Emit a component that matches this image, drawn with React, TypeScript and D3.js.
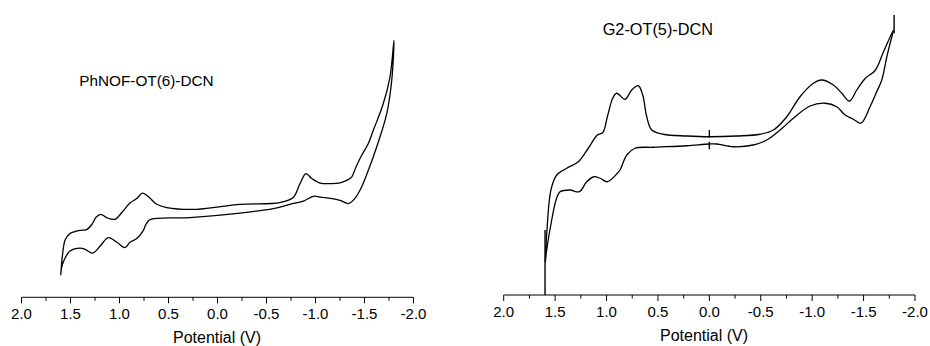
import React from "react";
import * as d3 from "d3";

// Tick values and labels (shared by both panels)
const majorTicks = [2.0, 1.5, 1.0, 0.5, 0.0, -0.5, -1.0, -1.5, -2.0];
const tickLabels = ["2.0", "1.5", "1.0", "0.5", "0.0", "-0.5", "-1.0", "-1.5", "-2.0"];
const minorTicks = [1.75, 1.25, 0.75, 0.25, -0.25, -0.75, -1.25, -1.75];

const leftTitle = "PhNOF-OT(6)-DCN";
const rightTitle = "G2-OT(5)-DCN";
const xLabel = "Potential (V)";

// Left panel: [potential V, current a.u.]
const leftForward: [number, number][] = [
  [1.6, 8.8], [1.582, 16.8], [1.556, 22.8], [1.515, 25.2], [1.471, 26.1], [1.403, 26.8],
  [1.335, 27.1], [1.281, 29.2], [1.24, 32], [1.189, 33.2], [1.128, 31.8], [1.046, 31.2],
  [0.974, 34], [0.893, 37.7], [0.824, 39.5], [0.767, 41.7], [0.709, 40.4], [0.62, 37.2],
  [0.518, 35.9], [0.212, 35.2], [-0.23, 37.2], [-0.638, 37.9], [-0.773, 39.9], [-0.842, 45.5],
  [-0.903, 49.5], [-0.961, 47.5], [-1.046, 45.7], [-1.165, 45.5], [-1.25, 45.8], [-1.318, 46.8],
  [-1.369, 48.1], [-1.413, 52.1], [-1.471, 56.8], [-1.539, 61.5], [-1.59, 66.8], [-1.692, 77.5],
  [-1.76, 88.1], [-1.801, 102.8],
];
const leftReverse: [number, number][] = [
  [-1.801, 102.8], [-1.778, 86.8], [-1.727, 73.5], [-1.624, 60.1], [-1.539, 50.8], [-1.454, 42.8],
  [-1.386, 38.8], [-1.335, 37.5], [-1.25, 38.8], [-1.148, 39.6], [-1.046, 40.1], [-0.978, 40.4],
  [-0.876, 38.5], [-0.74, 37.2], [-0.569, 35.5], [-0.23, 33.7], [0.281, 31.9], [0.689, 31.1],
  [0.73, 29.2], [0.757, 26.8], [0.824, 23.5], [0.893, 22], [0.944, 19.9], [1.026, 22],
  [1.114, 23.9], [1.199, 20.4], [1.273, 17.7], [1.352, 19.2], [1.403, 19.7], [1.505, 18.5],
  [1.566, 14.8], [1.592, 11.6], [1.6, 8.8],
];

// Right panel
const rightForward: [number, number][] = [
  [1.595, 13.2], [1.589, 19.3], [1.576, 28], [1.556, 38], [1.533, 43.3], [1.484, 48],
  [1.387, 50.7], [1.274, 53.3], [1.177, 58.7], [1.089, 64], [1.037, 64.9], [0.992, 71.3],
  [0.94, 78.7], [0.901, 80.7], [0.82, 78.3], [0.755, 82], [0.691, 83.7], [0.648, 80],
  [0.609, 71.3], [0.56, 66], [0.447, 64.3], [0.22, 63.6], [0.0, 63.3], [-0.267, 63.6],
  [-0.493, 64.3], [-0.623, 66], [-0.753, 71.3], [-0.882, 79.3], [-1.012, 84.7], [-1.093, 86],
  [-1.206, 84], [-1.288, 80.7], [-1.362, 77.6], [-1.434, 82], [-1.515, 86.6], [-1.612, 89.8],
  [-1.693, 97.2], [-1.79, 106],
];
const rightReverse: [number, number][] = [
  [-1.79, 106], [-1.758, 100.7], [-1.726, 95.3], [-1.677, 86], [-1.622, 80.8], [-1.563, 75.3],
  [-1.473, 68.7], [-1.401, 70.3], [-1.32, 72], [-1.239, 75.3], [-1.125, 76.7], [-0.98, 75.6],
  [-0.817, 70.7], [-0.688, 66], [-0.558, 62], [-0.428, 60], [-0.233, 59.3], [-0.072, 60.4],
  [0.0, 60.4], [0.22, 59.7], [0.545, 59.1], [0.723, 58.7], [0.803, 56], [0.869, 50],
  [0.901, 48.4], [0.992, 45.3], [1.063, 46.7], [1.122, 47.3], [1.193, 45.3], [1.265, 41.3],
  [1.355, 42], [1.452, 41.3], [1.491, 38], [1.533, 30], [1.582, 18], [1.595, 13.2],
];
// Vertical artefacts in the right trace: [potential, from current, to current]
const rightSpikes: [number, number, number][] = [
  [1.598, 0, 26],
  [-1.797, 104.7, 112],
  [0.0, 63, 66],
  [0.0, 58.3, 61.3],
];

const FONT = "'Liberation Sans', Arial, Helvetica, sans-serif";

type PanelProps = {
  x0: number; x1: number; axisY: number; topY: number; yMax: number;
  forward: [number, number][]; reverse: [number, number][];
  spikes?: [number, number, number][];
  title: string; titleX: number; titleY: number; titleSize: number;
  xLabelX: number;
};

function Panel(p: PanelProps) {
  const x = d3.scaleLinear().domain([2, -2]).range([p.x0, p.x1]);
  const y = d3.scaleLinear().domain([0, p.yMax]).range([p.axisY, p.topY]);
  const line = d3
    .line<[number, number]>()
    .x((d) => x(d[0]))
    .y((d) => y(d[1]))
    .curve(d3.curveCatmullRom.alpha(0.5));
  const pts = [...p.forward, ...p.reverse.slice(1)];
  return (
    <g>
      <path d={line(pts) ?? ""} fill="none" stroke="#000" strokeWidth={1.3} strokeLinejoin="round" />
      {(p.spikes ?? []).map((s, i) => (
        <line key={i} x1={x(s[0])} x2={x(s[0])} y1={y(s[1])} y2={y(s[2])} stroke="#000" strokeWidth={1.4} />
      ))}
      <line x1={x(2)} x2={x(-2)} y1={p.axisY} y2={p.axisY} stroke="#000" strokeWidth={1} />
      {majorTicks.map((t, i) => (
        <g key={"M" + i}>
          <line x1={x(t)} x2={x(t)} y1={p.axisY} y2={p.axisY + 6} stroke="#000" strokeWidth={1} />
          <text x={x(t)} y={p.axisY + 22} fontSize={15} textAnchor="middle" fontFamily={FONT} fill="#000">
            {tickLabels[i]}
          </text>
        </g>
      ))}
      {minorTicks.map((t, i) => (
        <line key={"m" + i} x1={x(t)} x2={x(t)} y1={p.axisY} y2={p.axisY + 3.5} stroke="#000" strokeWidth={1} />
      ))}
      <text x={p.xLabelX} y={p.axisY + 46} fontSize={16} textAnchor="middle" fontFamily={FONT} fill="#000">
        {xLabel}
      </text>
      <text x={p.titleX} y={p.titleY} fontSize={p.titleSize} fontFamily={FONT} fill="#000">
        {p.title}
      </text>
    </g>
  );
}

export default function App() {
  return (
    <svg
      width={930}
      height={346}
      style={{ position: "absolute", left: 0, top: 0, background: "#fff" }}
    >
      <rect width={930} height={346} fill="#fff" />
      <Panel
        x0={21.5} x1={413.5} axisY={297.3} topY={37.3} yMax={104}
        forward={leftForward} reverse={leftReverse}
        title={leftTitle} titleX={79.3} titleY={86} titleSize={15.3}
        xLabelX={217}
      />
      <Panel
        x0={503.7} x1={915} axisY={295} topY={15} yMax={112}
        forward={rightForward} reverse={rightReverse} spikes={rightSpikes}
        title={rightTitle} titleX={602.7} titleY={35} titleSize={16.3}
        xLabelX={704}
      />
    </svg>
  );
}
